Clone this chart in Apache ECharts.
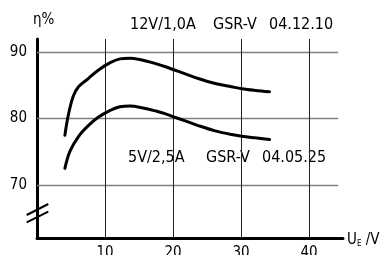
<!DOCTYPE html>
<html><head><meta charset="utf-8">
<script src="https://cdn.jsdelivr.net/npm/echarts@6/dist/echarts.min.js"></script>
<style>html,body{margin:0;padding:0;background:#fff}#c{width:385px;height:255px}</style>
</head><body><div id="c"></div>
<script>
// Data
const u12X = [4.1, 4.6, 5.3, 6.1, 7.5, 9.0, 10.7, 12.2, 13.7, 15.1, 17.1, 18.8, 20, 21.8, 23.7, 26.2, 28.6, 30.1, 32.1, 34.2];
const u12Y = [77.5, 80.5, 83.3, 84.8, 86.0, 87.3, 88.4, 89.0, 89.1, 88.9, 88.4, 87.85, 87.4, 86.75, 86.05, 85.3, 84.8, 84.5, 84.25, 84.05];
const u5X = [4.1, 4.85, 6.1, 7.5, 9.0, 10.7, 12.2, 13.7, 15.6, 17.6, 18.8, 20, 21.8, 23.7, 26.2, 28.6, 30.1, 32.1, 34.2];
const u5Y = [72.5, 75.1, 77.3, 78.9, 80.2, 81.2, 81.8, 81.9, 81.6, 81.1, 80.75, 80.3, 79.65, 78.95, 78.15, 77.6, 77.35, 77.1, 76.85];
const xTicks = [10, 20, 30, 40];
const yTicks = [70, 80, 90];
const label12 = ['12V/1,0A', 'GSR-V', '04.12.10'];
const label5 = ['5V/2,5A', 'GSR-V', '04.05.25'];

const FONT = '"DejaVu Sans Condensed", "DejaVu Sans", sans-serif';
const chart = echarts.init(document.getElementById('c'), null, {renderer: 'canvas'});

const hGrid = yTicks.map(v => [{coord: [0, v]}, {coord: [44.3, v]}]);
const vGrid = xTicks.map(v => [{coord: [v, 62]}, {coord: [v, 92]}]);

chart.setOption({
  animation: false,
  backgroundColor: '#fff',
  grid: {left: 37, top: 39, right: 42, bottom: 17, containLabel: false, outerBoundsMode: 'none'},
  xAxis: {
    type: 'value', min: 0, max: 45, interval: 5,
    axisLine: {show: true, lineStyle: {color: '#000', width: 3}},
    axisTick: {show: false}, splitLine: {show: false},
    axisLabel: {
      margin: 8, color: '#000', fontSize: 15, fontFamily: FONT,
      formatter: v => (xTicks.indexOf(v) >= 0 ? String(v) : '')
    }
  },
  yAxis: {
    type: 'value', min: 62, max: 92, interval: 2,
    axisLine: {show: true, lineStyle: {color: '#000', width: 3}},
    axisTick: {show: false}, splitLine: {show: false},
    axisLabel: {
      margin: 10, color: '#000', fontSize: 15, fontFamily: FONT,
      formatter: v => (yTicks.indexOf(v) >= 0 ? String(v) : '')
    }
  },
  series: [
    {
      type: 'line', data: [], silent: true,
      markLine: {
        silent: true, symbol: ['none', 'none'], label: {show: false},
        lineStyle: {color: '#808080', width: 1.3, type: 'solid'},
        data: hGrid, animation: false
      }
    },
    {
      type: 'line', data: [], silent: true,
      markLine: {
        silent: true, symbol: ['none', 'none'], label: {show: false},
        lineStyle: {color: '#222', width: 1, type: 'solid'},
        data: vGrid, animation: false
      }
    },
    {
      type: 'line', smooth: 0.35, showSymbol: false, z: 5,
      lineStyle: {color: '#000', width: 3, cap: 'round'},
      data: u12X.map((x, i) => [x, u12Y[i]])
    },
    {
      type: 'line', smooth: 0.35, showSymbol: false, z: 5,
      lineStyle: {color: '#000', width: 3, cap: 'round'},
      data: u5X.map((x, i) => [x, u5Y[i]])
    }
  ],
  graphic: [
    {type: 'text', left: 33, top: 13, style: {text: 'η%', font: '15px ' + FONT, fill: '#000'}},
    {type: 'text', left: 130, top: 17, style: {text: label12[0], font: '16px ' + FONT, fill: '#000'}},
    {type: 'text', left: 213, top: 17, style: {text: label12[1], font: '16px ' + FONT, fill: '#000'}},
    {type: 'text', left: 269, top: 17, style: {text: label12[2], font: '16px ' + FONT, fill: '#000'}},
    {type: 'text', left: 128, top: 150, style: {text: label5[0], font: '16px ' + FONT, fill: '#000', backgroundColor: '#fff'}},
    {type: 'text', left: 206, top: 150, style: {text: label5[1], font: '16px ' + FONT, fill: '#000', backgroundColor: '#fff'}},
    {type: 'text', left: 262, top: 150, style: {text: label5[2], font: '16px ' + FONT, fill: '#000', backgroundColor: '#fff'}},
    {type: 'text', left: 347, top: 233, style: {
      text: '{u|U}{s|E}{u| /V}', fill: '#000',
      rich: {u: {fontSize: 15, fontFamily: FONT, verticalAlign: 'bottom'},
             s: {fontSize: 8, fontFamily: FONT, verticalAlign: 'bottom'}}
    }},
    {type: 'line', shape: {x1: 26.7, y1: 215, x2: 48.3, y2: 204}, style: {stroke: '#000', lineWidth: 2}, z: 10},
    {type: 'line', shape: {x1: 26.7, y1: 222.3, x2: 48.3, y2: 211.7}, style: {stroke: '#000', lineWidth: 2}, z: 10}
  ]
});
</script>
</body></html>
